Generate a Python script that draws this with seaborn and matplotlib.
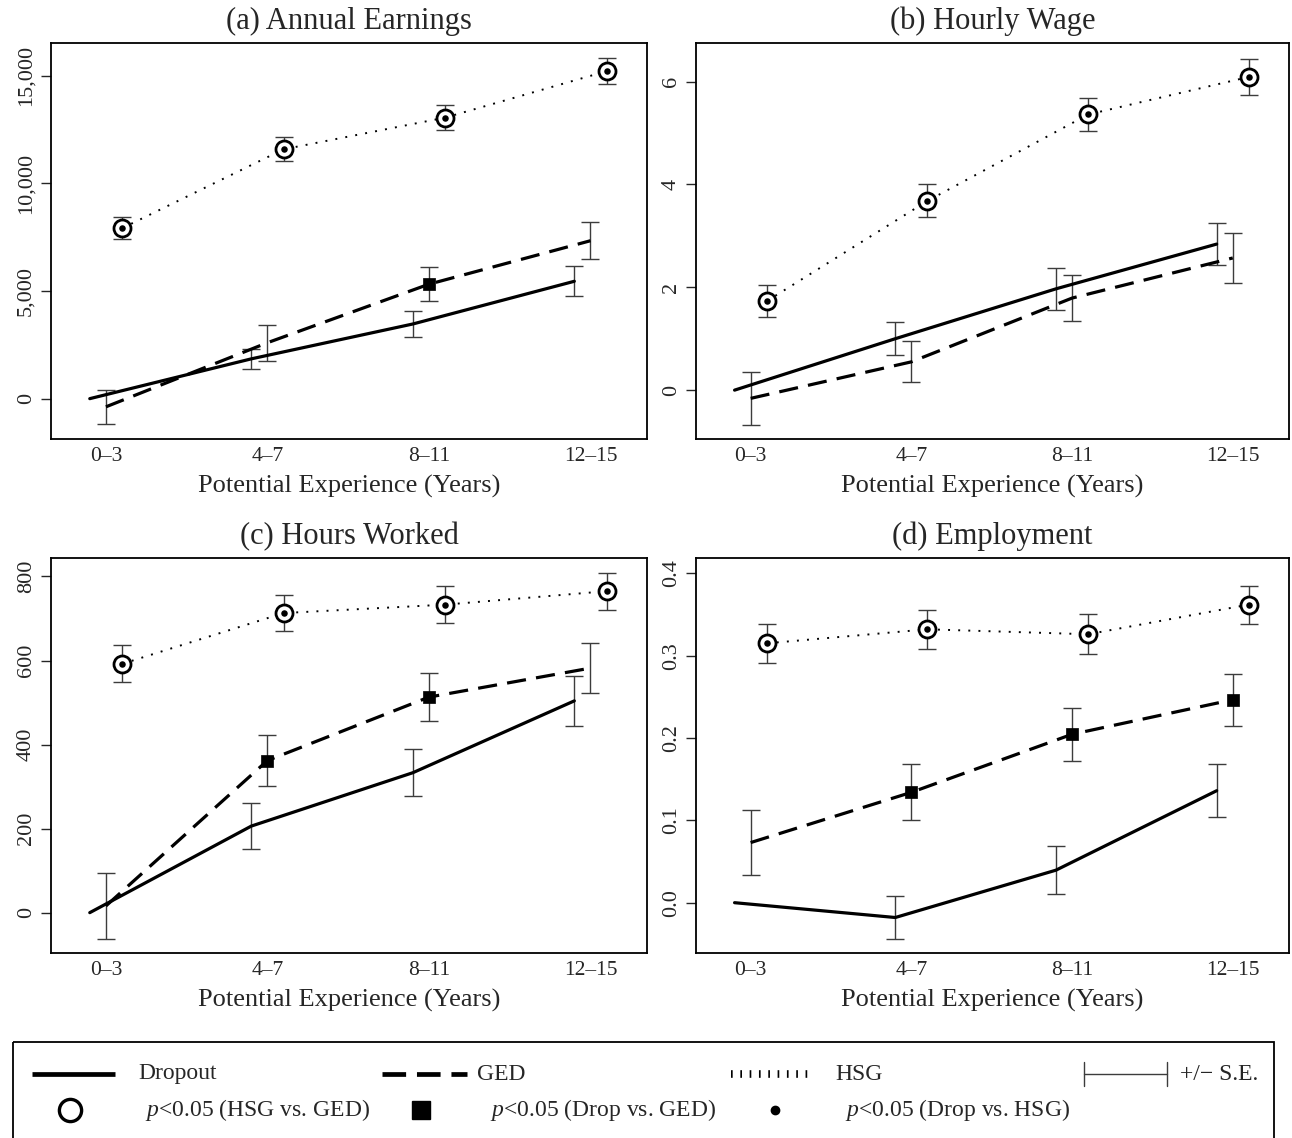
import numpy as np
import pandas as pd
import matplotlib
matplotlib.use("Agg")
import matplotlib.pyplot as plt
import seaborn as sns
from matplotlib.patches import Rectangle
from matplotlib.lines import Line2D

# ---------------------------------------------------------------- data
categories = ["0–3", "4–7", "8–11", "12–15"]

# (a) Annual Earnings
earn_dropout = [0, 1850, 3470, 5455]
earn_dropout_se = [np.nan, 450, 590, 700]
earn_ged = [-380, 2600, 5320, 7340]
earn_ged_se = [790, 840, 800, 850]
earn_hsg = [7920, 11590, 13060, 15220]
earn_hsg_se = [500, 565, 575, 610]
earn_ged_sig = [False, False, True, False]
earn_yticks = [0, 5000, 10000, 15000]
earn_yticklabels = ["0", "5,000", "10,000", "15,000"]
earn_ylim = (-1875, 16530)

# (b) Hourly Wage
wage_dropout = [0, 1.00, 1.97, 2.84]
wage_dropout_se = [np.nan, 0.32, 0.41, 0.41]
wage_ged = [-0.16, 0.55, 1.79, 2.57]
wage_ged_se = [0.51, 0.40, 0.44, 0.49]
wage_hsg = [1.73, 3.68, 5.36, 6.09]
wage_hsg_se = [0.31, 0.32, 0.33, 0.345]
wage_ged_sig = [False, False, False, False]
wage_yticks = [0, 2, 4, 6]
wage_yticklabels = ["0", "2", "4", "6"]
wage_ylim = (-0.95, 6.75)

# (c) Hours Worked
hours_dropout = [0, 206, 333, 504]
hours_dropout_se = [np.nan, 54, 56, 60]
hours_ged = [16, 362, 513, 582]
hours_ged_se = [78, 60, 58, 60]
hours_hsg = [592, 713, 733, 765]
hours_hsg_se = [44, 43, 44, 44]
hours_ged_sig = [False, True, True, False]
hours_yticks = [0, 200, 400, 600, 800]
hours_yticklabels = ["0", "200", "400", "600", "800"]
hours_ylim = (-96, 844)

# (d) Employment
emp_dropout = [0, -0.018, 0.0395, 0.136]
emp_dropout_se = [np.nan, 0.026, 0.0295, 0.032]
emp_ged = [0.073, 0.134, 0.2045, 0.2465]
emp_ged_se = [0.039, 0.034, 0.0325, 0.0315]
emp_hsg = [0.315, 0.332, 0.326, 0.362]
emp_hsg_se = [0.024, 0.0235, 0.024, 0.023]
emp_ged_sig = [False, True, True, True]
emp_yticks = [0.0, 0.1, 0.2, 0.3, 0.4]
emp_yticklabels = ["0.0", "0.1", "0.2", "0.3", "0.4"]
emp_ylim = (-0.0611, 0.4186)

# HSG points significant against both GED (ring) and dropouts (dot)
hsg_sig = [True, True, True, True]

panels = [
    ("(a) Annual Earnings", earn_dropout, earn_dropout_se, earn_ged, earn_ged_se,
     earn_hsg, earn_hsg_se, earn_ged_sig, earn_yticks, earn_yticklabels, earn_ylim),
    ("(b) Hourly Wage", wage_dropout, wage_dropout_se, wage_ged, wage_ged_se,
     wage_hsg, wage_hsg_se, wage_ged_sig, wage_yticks, wage_yticklabels, wage_ylim),
    ("(c) Hours Worked", hours_dropout, hours_dropout_se, hours_ged, hours_ged_se,
     hours_hsg, hours_hsg_se, hours_ged_sig, hours_yticks, hours_yticklabels, hours_ylim),
    ("(d) Employment", emp_dropout, emp_dropout_se, emp_ged, emp_ged_se,
     emp_hsg, emp_hsg_se, emp_ged_sig, emp_yticks, emp_yticklabels, emp_ylim),
]

# ---------------------------------------------------------------- style
sns.set_style("ticks")
plt.rcParams["font.family"] = ["Liberation Serif", "DejaVu Serif"]
plt.rcParams["mathtext.fontset"] = "custom"
plt.rcParams["mathtext.rm"] = "Liberation Serif"
plt.rcParams["mathtext.it"] = "Liberation Serif:italic"

W, H = 1292, 1138
fig = plt.figure(figsize=(W / 100, H / 100), dpi=100)

# axes boxes in pixel coordinates (left, top, right, bottom)
boxes = [(51, 43, 647, 439), (696, 43, 1289, 439),
         (51, 558, 647, 953), (696, 558, 1289, 953)]

pos = np.arange(1, len(categories) + 1)
offsets = {"Dropout": -0.1, "GED": 0.0, "HSG": 0.1}
line_styles = {"Dropout": "-", "GED": (0, (6, 3.2)), "HSG": (0, (1, 4.2))}
line_widths = {"Dropout": 2.3, "GED": 2.3, "HSG": 1.4}
ebar_color = "#3c3c3c"

for (title, dv, dse, gv, gse, hv, hse, gsig, yt, ytl, ylim), box in zip(panels, boxes):
    l, t, r, b = box
    ax = fig.add_axes([l / W, 1 - b / H, (r - l) / W, (b - t) / H])

    series = {"Dropout": (dv, dse), "GED": (gv, gse), "HSG": (hv, hse)}
    for name, (vals, ses) in series.items():
        df = pd.DataFrame({"x": pos + offsets[name], "y": vals, "se": ses})
        sns.lineplot(data=df, x="x", y="y", ax=ax, color="black",
                     linewidth=line_widths[name], linestyle=line_styles[name],
                     estimator=None, sort=False, legend=False, zorder=3)
        eb = df.dropna(subset=["se"])
        ax.errorbar(eb["x"], eb["y"], yerr=eb["se"], fmt="none",
                    ecolor=ebar_color, elinewidth=1.0, capsize=6.5,
                    capthick=1.0, zorder=2)

    # GED significance squares
    gdf = pd.DataFrame({"x": pos + offsets["GED"], "y": gv, "sig": gsig})
    gdf = gdf[gdf["sig"]]
    if len(gdf):
        sns.scatterplot(data=gdf, x="x", y="y", ax=ax, marker="s", s=85,
                        color="black", edgecolor="black", linewidth=0.5,
                        legend=False, zorder=5)

    # HSG significance ring and dot
    hdf = pd.DataFrame({"x": pos + offsets["HSG"], "y": hv, "sig": hsg_sig})
    hdf = hdf[hdf["sig"]]
    sns.scatterplot(data=hdf, x="x", y="y", ax=ax, marker="o", s=150,
                    facecolor="white", edgecolor="black", linewidth=2.0,
                    legend=False, zorder=5)
    sns.scatterplot(data=hdf, x="x", y="y", ax=ax, marker="o", s=22,
                    color="black", edgecolor="black", linewidth=0,
                    legend=False, zorder=6)

    ax.set_xlim(0.66, 4.35)
    ax.set_ylim(*ylim)
    ax.set_xticks(pos)
    ax.set_xticklabels(categories, fontsize=15.5)
    ax.tick_params(axis="x", length=0, pad=6)
    ax.set_yticks(yt)
    ax.set_yticklabels(ytl, fontsize=16, rotation=90, va="center")
    ax.tick_params(axis="y", length=7, width=1.0, direction="out", pad=4)
    for sp in ax.spines.values():
        sp.set_visible(True)
        sp.set_linewidth(1.3)
        sp.set_color("black")
    ax.set_xlabel("Potential Experience (Years)", fontsize=19, labelpad=6)
    ax.set_ylabel("")
    ax.set_title(title, fontsize=22, pad=10)

# ---------------------------------------------------------------- legend panel
lg = fig.add_axes([0, 0, 1, 1], zorder=10)
lg.set_xlim(0, W)
lg.set_ylim(H, 0)
lg.axis("off")
lg.patch.set_alpha(0)

lg.add_patch(Rectangle((13, 1042), 1261, 110, fill=False, edgecolor="black",
                       linewidth=1.3, clip_on=False))

row1, row2 = 1074, 1110
fs = 17
lg.add_line(Line2D([32, 115], [row1, row1], color="black", linewidth=3.4,
                   solid_capstyle="butt"))
lg.text(138, row1, "Dropout", fontsize=fs, va="center", ha="left")
lg.add_line(Line2D([382, 467], [row1, row1], color="black", linewidth=3.4,
                   linestyle=(0, (5.0, 2.3)), dash_capstyle="butt"))
lg.text(477, row1, "GED", fontsize=fs, va="center", ha="left")
lg.add_line(Line2D([731, 812], [row1, row1], color="black", linewidth=5.5,
                   linestyle=(0, (0.22, 1.0)), dash_capstyle="butt"))
lg.text(835, row1, "HSG", fontsize=fs, va="center", ha="left")
lg.add_line(Line2D([1084, 1167], [row1, row1], color=ebar_color, linewidth=1.0))
lg.add_line(Line2D([1084, 1084], [row1 - 12, row1 + 12], color=ebar_color, linewidth=1.0))
lg.add_line(Line2D([1167, 1167], [row1 - 12, row1 + 12], color=ebar_color, linewidth=1.0))
lg.text(1180, row1, "+/\u2212 S.E.", fontsize=fs, va="center", ha="left")

lg.plot([70], [row2], marker="o", markersize=16, markerfacecolor="white",
        markeredgecolor="black", markeredgewidth=2.4, linestyle="none")
lg.text(145, row2, r"$p$<0.05 (HSG vs. GED)", fontsize=fs, va="center", ha="left")
lg.plot([421], [row2], marker="s", markersize=12.5, color="black", linestyle="none")
lg.text(490, row2, r"$p$<0.05 (Drop vs. GED)", fontsize=fs, va="center", ha="left")
lg.plot([775], [row2], marker="o", markersize=6, color="black", linestyle="none")
lg.text(845, row2, r"$p$<0.05 (Drop vs. HSG)", fontsize=fs, va="center", ha="left")

fig.savefig("out.png", dpi=100)
